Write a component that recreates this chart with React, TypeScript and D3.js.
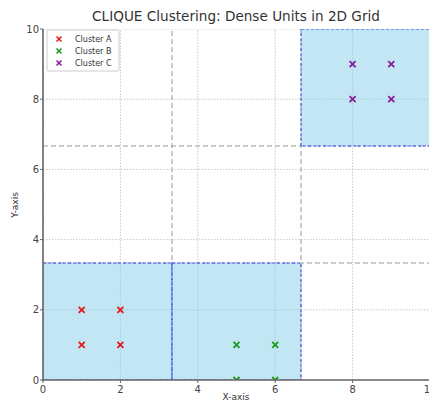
import React from "react";
import * as d3 from "d3";

const W = 429;
const H = 403;

// Cluster points
const clusterNames = ["Cluster A", "Cluster B", "Cluster C"];
const clusterColors = ["#e41a1c", "#1a9a1a", "#8a1a9a"];
const clusterAX = [1, 1, 2, 2];
const clusterAY = [1, 2, 1, 2];
const clusterBX = [5, 5, 6, 6];
const clusterBY = [0, 1, 0, 1];
const clusterCX = [8, 8, 9, 9];
const clusterCY = [8, 9, 8, 9];

// Grid partition and dense unit cells (column, row) in a 3x3 grid
const gridSize = 3;
const denseCols = [0, 1, 2];
const denseRows = [0, 0, 2];

const ticks = [0, 2, 4, 6, 8, 10];

const FONT = "DejaVu Sans, sans-serif";

export default function App() {
  const x = d3.scaleLinear().domain([0, 10]).range([43, 430]);
  const y = d3.scaleLinear().domain([0, 10]).range([380, 29]);
  const unit = 10 / gridSize;
  const bounds = d3.range(1, gridSize).map((i) => i * unit);

  const series = [
    { xs: clusterAX, ys: clusterAY },
    { xs: clusterBX, ys: clusterBY },
    { xs: clusterCX, ys: clusterCY },
  ];

  const m = 3;
  return (
    <svg width={W} height={H} style={{ position: "absolute", left: 0, top: 0 }}>
      <defs>
        <clipPath id="plot">
          <rect x={x(0)} y={y(10)} width={x(10) - x(0)} height={y(0) - y(10)} />
        </clipPath>
      </defs>
      <rect width={W} height={H} fill="#fff" />
      <text x={236} y={21} textAnchor="middle" fontFamily={FONT} fontSize={13.6} fill="#333">
        CLIQUE Clustering: Dense Units in 2D Grid
      </text>

      <g clipPath="url(#plot)">
        {/* tick grid */}
        {ticks.map((t) => (
          <g key={"g" + t}>
            <line x1={x(t)} x2={x(t)} y1={y(0)} y2={y(10)} stroke="#bbb" strokeWidth={0.8} strokeDasharray="1.5,1.5" />
            <line x1={x(0)} x2={x(10)} y1={y(t)} y2={y(t)} stroke="#bbb" strokeWidth={0.8} strokeDasharray="1.5,1.5" />
          </g>
        ))}
        {/* partition boundaries */}
        {bounds.map((b) => (
          <g key={"b" + b}>
            <line x1={x(b)} x2={x(b)} y1={y(0)} y2={y(10)} stroke="#999" strokeWidth={1} strokeDasharray="5,3" />
            <line x1={x(0)} x2={x(10)} y1={y(b)} y2={y(b)} stroke="#999" strokeWidth={1} strokeDasharray="5,3" />
          </g>
        ))}
        {/* dense units */}
        {denseCols.map((c, i) => {
          const r = denseRows[i];
          return (
            <rect
              key={"d" + i}
              x={x(c * unit)}
              y={y((r + 1) * unit)}
              width={x((c + 1) * unit) - x(c * unit)}
              height={y(r * unit) - y((r + 1) * unit)}
              fill="rgba(135,206,235,0.5)"
              stroke="rgba(0,0,255,0.45)"
              strokeWidth={1.5}
              strokeDasharray="3,2"
            />
          );
        })}
        {/* points */}
        {series.map((s, si) =>
          s.xs.map((px, i) => {
            const cx = x(px);
            const cy = y(s.ys[i]);
            return (
              <path
                key={si + "-" + i}
                d={`M${cx - m},${cy - m}L${cx + m},${cy + m}M${cx - m},${cy + m}L${cx + m},${cy - m}`}
                stroke={clusterColors[si]}
                strokeWidth={1.8}
              />
            );
          })
        )}
      </g>

      {/* spines */}
      <line x1={x(0)} x2={x(0)} y1={y(10)} y2={y(0) + 1} stroke="#666" strokeWidth={1.6} />
      <line x1={x(0) - 1} x2={x(10)} y1={y(0)} y2={y(0)} stroke="#666" strokeWidth={1.6} />

      {/* y ticks */}
      {ticks.map((t) => (
        <g key={"yt" + t}>
          <line x1={x(0) - 3} x2={x(0)} y1={y(t)} y2={y(t)} stroke="#666" />
          <text x={x(0) - 4} y={y(t) + 3.5} textAnchor="end" fontFamily={FONT} fontSize={10} fill="#444">
            {t}
          </text>
        </g>
      ))}
      {/* x ticks */}
      {ticks.map((t) => (
        <g key={"xt" + t}>
          <line x1={x(t)} x2={x(t)} y1={y(0)} y2={y(0) + 3} stroke="#666" />
          <text x={x(t)} y={y(0) + 13} textAnchor="middle" fontFamily={FONT} fontSize={10} fill="#444">
            {t}
          </text>
        </g>
      ))}

      <text x={236} y={400} textAnchor="middle" fontFamily={FONT} fontSize={9} fill="#333">
        X-axis
      </text>
      <text transform={`translate(18,205) rotate(-90)`} textAnchor="middle" fontFamily={FONT} fontSize={9} fill="#333">
        Y-axis
      </text>

      {/* legend */}
      <rect x={47} y={30} width={72} height={41} fill="#fff" stroke="#ccc" strokeWidth={1} rx={1.5} />
      {clusterNames.map((n, i) => {
        const ly = 39 + i * 12;
        const lx = 59;
        return (
          <g key={n}>
            <path
              d={`M${lx - 2.5},${ly - 2.5}L${lx + 2.5},${ly + 2.5}M${lx - 2.5},${ly + 2.5}L${lx + 2.5},${ly - 2.5}`}
              stroke={clusterColors[i]}
              strokeWidth={1.5}
            />
            <text x={75} y={ly + 3} fontFamily={FONT} fontSize={8} fill="#333">
              {n}
            </text>
          </g>
        );
      })}
    </svg>
  );
}
